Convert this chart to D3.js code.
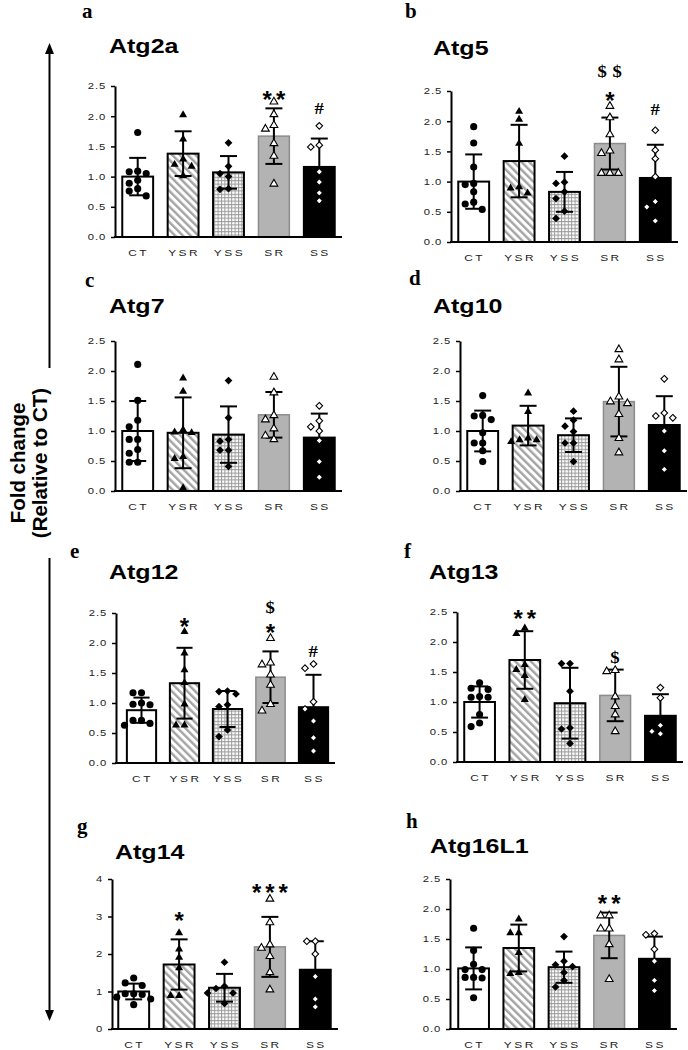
<!DOCTYPE html>
<html><head><meta charset="utf-8">
<script src="https://cdn.jsdelivr.net/npm/d3@7"></script>
<style>body{margin:0;background:#fff}svg{display:block}</style>
</head><body>
<svg id="c" width="688" height="1050"></svg>
<script>
// ---------------- DATA ----------------
const categories = ["CT", "YSR", "YSS", "SR", "SS"];
const genes = ["Atg2a", "Atg5", "Atg7", "Atg10", "Atg12", "Atg13", "Atg14", "Atg16L1"];
const panelLetters = ["a", "b", "c", "d", "e", "f", "g", "h"];
const yMax = [2.5, 2.5, 2.5, 2.5, 2.5, 2.5, 4, 2.5];
const yTicksDefault = [0, 0.5, 1.0, 1.5, 2.0, 2.5];
const yTicksAtg14 = [0, 1, 2, 3, 4];

const means = [
  [1.00, 1.38, 1.07, 1.67, 1.16],
  [1.00, 1.34, 0.83, 1.63, 1.06],
  [1.00, 0.97, 0.94, 1.27, 0.89],
  [1.00, 1.09, 0.93, 1.49, 1.10],
  [0.88, 1.33, 0.90, 1.43, 0.93],
  [1.00, 1.70, 0.98, 1.11, 0.77],
  [1.00, 1.72, 1.10, 2.19, 1.58],
  [1.01, 1.35, 1.03, 1.56, 1.17]
];
const sds = [
  [0.31, 0.37, 0.27, 0.46, 0.47],
  [0.45, 0.60, 0.33, 0.43, 0.55],
  [0.50, 0.59, 0.47, 0.38, 0.40],
  [0.34, 0.33, 0.28, 0.58, 0.48],
  [0.21, 0.59, 0.30, 0.43, 0.54],
  [0.26, 0.48, 0.59, 0.43, 0.36],
  [0.21, 0.67, 0.37, 0.80, 0.76],
  [0.35, 0.39, 0.26, 0.38, 0.37]
];
const points = [
  [[1.73,1.08,1.05,1.09,0.89,0.94,0.80,0.76,0.68],[2.02,1.62,1.29,1.17,1.20,1.01],[1.56,1.17,1.05,1.00,0.79,0.80],[2.24,2.03,1.85,1.79,1.55,1.34,0.88],[1.84,1.52,1.49,1.08,0.91,0.73,0.60]],
  [[1.91,1.64,1.24,0.95,0.97,0.83,0.66,0.63,0.54],[2.16,2.03,1.63,0.89,0.91,0.81],[1.42,0.97,0.99,0.83,0.72,0.51,0.39],[2.25,2.06,1.78,1.51,1.47,1.14,1.14,1.14],[1.85,1.52,1.38,1.08,0.67,0.58,0.35]],
  [[2.11,1.51,1.18,1.07,0.86,0.86,0.63,0.69,0.48,0.48],[1.88,1.66,1.02,0.97,0.98,0.57,0.54,0.05],[1.84,1.22,0.83,0.86,0.68,0.68,0.41],[1.90,1.64,1.26,1.19,1.04,0.86,0.92],[1.42,1.17,1.07,1.00,0.84,0.49,0.23]],
  [[1.59,1.25,1.19,1.26,0.97,0.80,0.80,0.67,0.49],[1.63,1.32,0.88,0.85,0.82,0.85],[1.33,1.18,1.08,0.99,0.80,0.80,0.49],[2.36,2.19,1.49,1.46,1.57,1.28,0.88,0.64],[1.87,1.25,1.22,1.30,1.00,0.67,0.36]],
  [[1.17,1.17,0.97,1.00,0.98,0.71,0.71,0.66,0.63],[2.19,1.83,1.55,1.34,0.98,0.63,0.63],[1.20,1.19,1.15,0.97,0.94,0.55,0.44],[2.08,1.67,1.64,1.47,1.30,0.98,0.87],[1.58,1.65,1.02,0.90,0.70,0.42,0.20]],
  [[1.32,1.21,1.23,1.08,1.09,1.08,0.79,0.59,0.65],[2.23,2.14,1.62,1.54,1.44,1.04],[1.64,1.64,1.18,0.57,0.55,0.31],[1.53,1.51,1.09,0.93,0.79,0.51],[1.24,1.07,0.61,0.47,0.51]],
  [[1.36,1.23,1.16,0.94,0.94,0.85,0.92,0.65,0.80],[2.56,2.13,1.91,1.63,0.89,0.89],[1.78,1.14,1.08,0.96,0.96,0.68],[3.47,2.84,2.25,2.16,1.94,1.51,1.05],[2.34,2.34,2.00,1.40,0.80,0.59]],
  [[1.68,1.31,1.08,0.99,0.99,0.86,0.85,0.86,0.52],[1.83,1.60,1.60,1.27,0.92,0.94],[1.54,1.13,1.04,1.07,0.94,0.81,0.70],[1.89,1.89,1.67,1.67,1.41,0.83],[1.57,1.59,1.33,1.13,0.81,0.64]]
];
// significance marks: [panel index, category, text, value level]
const sigMarks = [
  [0, "SR", "**", 2.37], [0, "SS", "#", 2.13],
  [1, "SR", "$$", 2.84], [1, "SR", "*", 2.44], [1, "SS", "#", 2.21],
  [4, "YSR", "*", 2.37], [4, "SR", "$", 2.61], [4, "SR", "*", 2.27], [4, "SS", "#", 1.87],
  [5, "YSR", "**", 2.49], [5, "SR", "$", 1.76],
  [6, "YSR", "*", 3.04], [6, "SR", "***", 3.78],
  [7, "SR", "**", 2.19]
];
const yAxisTitle = ["Fold change", "(Relative to CT)"];

// ---------------- LAYOUT ----------------
const layout = [
  {axisX:115, bandL:115, bandR:342, yTop:86,  y0:237,  title:[109,53],  letter:[82,18]},
  {axisX:451, bandL:451, bandR:678, yTop:91,  y0:242,  title:[433,55],  letter:[405,18]},
  {axisX:115, bandL:115, bandR:342, yTop:341, y0:491,  title:[109,313], letter:[85,287]},
  {axisX:460, bandL:460, bandR:687, yTop:341, y0:491,  title:[433,313], letter:[409,285]},
  {axisX:116, bandL:120, bandR:335, yTop:613, y0:763,  title:[109,579], letter:[70,558]},
  {axisX:457, bandL:457, bandR:683, yTop:612, y0:762,  title:[429,579], letter:[404,558]},
  {axisX:112, bandL:111, bandR:338, yTop:879, y0:1029, title:[115,859], letter:[77,833]},
  {axisX:450, bandL:451, bandR:677, yTop:879, y0:1029, title:[430,853], letter:[406,828]}
];
const SX = 1.25; // horizontal text stretch of the original figure
const SANS = "'Liberation Sans', Arial, sans-serif";
const SERIF = "'Liberation Serif', 'Times New Roman', serif";

const svg = d3.select("#c");
const defs = svg.append("defs");
const stripes = defs.append("pattern").attr("id","stripes").attr("patternUnits","userSpaceOnUse")
  .attr("width",5.5).attr("height",5.5).attr("patternTransform","rotate(-45)");
stripes.append("rect").attr("width",5.5).attr("height",5.5).attr("fill","#fff");
stripes.append("rect").attr("width",2.4).attr("height",5.5).attr("fill","#a3a3a3");
const grid = defs.append("pattern").attr("id","grid").attr("patternUnits","userSpaceOnUse")
  .attr("width",3.4).attr("height",3.4);
grid.append("rect").attr("width",3.4).attr("height",3.4).attr("fill","#fff");
grid.append("path").attr("d","M0 0.5H3.4M0.5 0V3.4").attr("stroke","#9a9a9a").attr("stroke-width",1);

// square-shaped diamond (square rotated 45 degrees)
const symbolRhomb = {
  draw(ctx, size) {
    const r = Math.sqrt(size / 2);
    ctx.moveTo(0, -r); ctx.lineTo(r, 0); ctx.lineTo(0, r); ctx.lineTo(-r, 0); ctx.closePath();
  }
};

const barFill = {CT:"#fff", YSR:"url(#stripes)", YSS:"url(#grid)", SR:"#b3b3b3", SS:"#000"};
const barStroke = {CT:"#000", YSR:"#000", YSS:"#000", SR:"#8c8c8c", SS:"#000"};
const symType = {CT:d3.symbolCircle, YSR:d3.symbolTriangle, YSS:symbolRhomb, SR:d3.symbolTriangle, SS:symbolRhomb};
const symSize = {CT:40, YSR:28, YSS:30, SR:26, SS:22};
const symFill = {CT:"#000", YSR:"#000", YSS:"#000", SR:"#fff", SS:"#fff"};
const symStroke = {CT:"none", YSR:"none", YSS:"none", SR:"#000", SS:"#000"};

function swarm(vals, yScale, step, minD) {
  const pts = vals.map(v => ({v, y: yScale(v), x: 0})).sort((a,b) => a.y - b.y);
  const placed = [];
  pts.forEach(p => {
    for (let k = 0; k < 30; k++) {
      const off = k === 0 ? 0 : (k % 2 ? -1 : 1) * Math.ceil(k / 2) * step;
      if (placed.every(q => Math.hypot(q.x - off, q.y - p.y) >= minD)) { p.x = off; break; }
    }
    placed.push(p);
  });
  return pts;
}

layout.forEach((L, pi) => {
  const g = svg.append("g");
  const x = d3.scaleBand().domain(categories).range([L.bandL, L.bandR]).paddingInner(0.32).paddingOuter(0.16);
  const y = d3.scaleLinear().domain([0, yMax[pi]]).range([L.y0, L.yTop]);
  const bw = x.bandwidth();

  // bars
  g.selectAll("rect.bar").data(categories).join("rect").attr("class","bar")
    .attr("x", c => x(c)).attr("y", (c,i) => y(means[pi][i]))
    .attr("width", bw).attr("height", (c,i) => y(0) - y(means[pi][i]))
    .attr("fill", c => barFill[c]).attr("stroke", c => barStroke[c])
    .attr("stroke-width", c => c === "SR" ? 1.5 : 2);

  // error bars
  const cap = bw * 0.55;
  categories.forEach((c, i) => {
    const cx = x(c) + bw / 2, hi = y(means[pi][i] + sds[pi][i]), lo = y(Math.max(0, means[pi][i] - sds[pi][i]));
    const eb = g.append("g").attr("stroke","#000").attr("stroke-width",2);
    eb.append("line").attr("x1",cx).attr("x2",cx).attr("y1",hi).attr("y2",lo);
    eb.append("line").attr("x1",cx-cap/2).attr("x2",cx+cap/2).attr("y1",hi).attr("y2",hi);
    eb.append("line").attr("x1",cx-cap/2).attr("x2",cx+cap/2).attr("y1",lo).attr("y2",lo);
  });

  // points
  categories.forEach((c, i) => {
    const cx = x(c) + bw / 2;
    const pts = swarm(points[pi][i], y, 8.5, 7.6);
    g.selectAll(null).data(pts).join("path")
      .attr("transform", p => `translate(${cx + p.x},${p.y})`)
      .attr("d", d3.symbol().type(symType[c]).size(symSize[c]))
      .attr("fill", symFill[c]).attr("stroke", symStroke[c]).attr("stroke-width", 1.1);
  });

  // y axis
  const ticks = yMax[pi] === 4 ? yTicksAtg14 : yTicksDefault;
  const fmt = yMax[pi] === 4 ? d3.format("d") : d3.format(".1f");
  const ya = g.append("g").attr("transform", `translate(${L.axisX},0)`)
    .call(d3.axisLeft(y).tickValues(ticks).tickFormat(fmt).tickSize(4).tickSizeOuter(0).tickPadding(3));
  ya.select(".domain").attr("stroke-width", 2);
  ya.selectAll(".tick line").attr("stroke-width", 1.5);
  ya.selectAll(".tick text").attr("transform", `scale(${SX},1)`)
    .style("font-family", SANS).style("font-size", "9px").style("letter-spacing", "0.8px").attr("fill","#222");
  // x axis line
  g.append("line").attr("x1", L.axisX - 1).attr("x2", L.bandR).attr("y1", y(0)).attr("y2", y(0))
    .attr("stroke","#000").attr("stroke-width",2);
  // x labels
  categories.forEach(c => {
    g.append("text").attr("transform", `translate(${x(c) + bw/2 + 1},${L.y0 + 19}) scale(${SX},1)`)
      .attr("text-anchor","middle").style("font-family", SANS).style("font-size","9.5px")
      .style("letter-spacing","2px").attr("fill","#222").text(c);
  });
  // title
  g.append("text").attr("transform", `translate(${L.title[0]},${L.title[1]}) scale(${SX},1)`)
    .style("font-family", SANS).style("font-weight","bold").style("font-size","20px").text(genes[pi]);
  // panel letter
  g.append("text").attr("x", L.letter[0]).attr("y", L.letter[1])
    .style("font-family", SERIF).style("font-weight","bold").style("font-size","21px").text(panelLetters[pi]);

  // significance marks
  sigMarks.filter(m => m[0] === pi).forEach(m => {
    const cx = x(m[1]) + bw / 2;
    const isStar = m[2][0] === "*";
    const fs = isStar ? 24 : 17;
    const off = isStar ? 0.58 * fs : 0.36 * fs;
    g.append("text").attr("transform", `translate(${cx + (isStar ? 2 : 2.5)},${y(m[3]) + off}) scale(${isStar ? 1 : 1.1},1)`)
      .attr("text-anchor","middle")
      .style("font-family", isStar ? SANS : SERIF).style("font-weight","bold")
      .style("font-size", fs + "px").style("letter-spacing", isStar ? "4px" : "5px").text(m[2]);
  });
});

// left axis title with arrows
const lab = svg.append("g").attr("transform","translate(25,463) rotate(-90)");
yAxisTitle.forEach((t, i) => {
  lab.append("text").attr("x",0).attr("y", i * 22).attr("text-anchor","middle")
    .style("font-family", SANS).style("font-weight","bold").style("font-size","20.5px").text(t);
});
const ax = 49.5;
svg.append("line").attr("x1",ax).attr("x2",ax).attr("y1",368).attr("y2",52).attr("stroke","#000").attr("stroke-width",2);
svg.append("path").attr("d",`M${ax-4.5},54 L${ax},43 L${ax+4.5},54 Z`).attr("fill","#000");
svg.append("line").attr("x1",ax).attr("x2",ax).attr("y1",558).attr("y2",1012).attr("stroke","#000").attr("stroke-width",2);
svg.append("path").attr("d",`M${ax-4.5},1010 L${ax},1021 L${ax+4.5},1010 Z`).attr("fill","#000");
</script>
</body></html>
